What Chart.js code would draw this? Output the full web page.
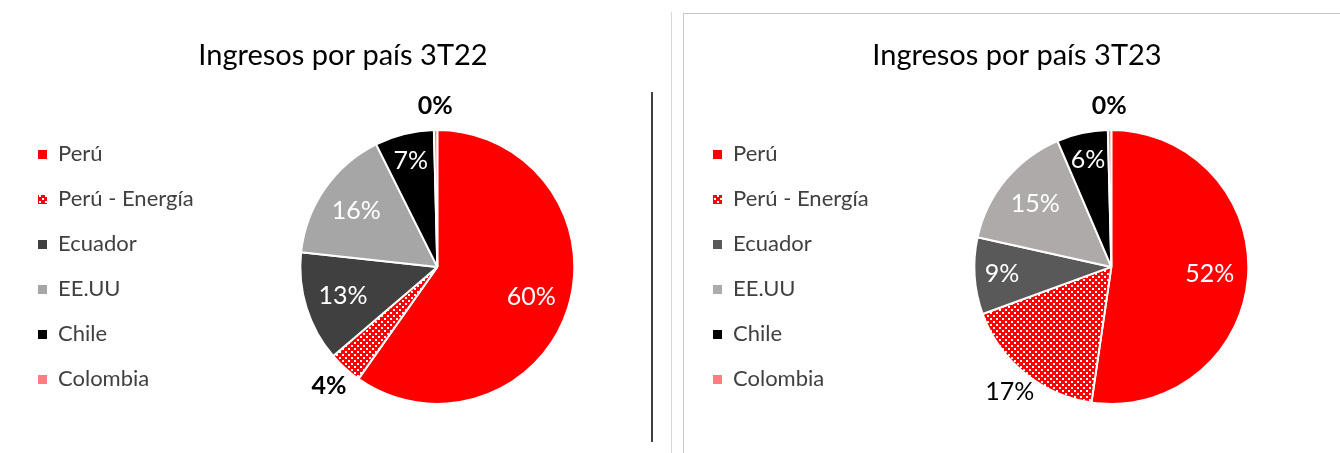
<!DOCTYPE html>
<html>
<head>
<meta charset="utf-8">
<script src="https://cdn.jsdelivr.net/npm/chart.js@4.4.0/dist/chart.umd.min.js"></script>
<style>
  html, body { margin: 0; padding: 0; background: #fff; overflow: hidden; }
  body { width: 1340px; height: 453px; position: relative; }
  .box { position: absolute; top: 0; height: 453px; }
  #left { left: 0; width: 680px; }
  #right { left: 684px; width: 662px; }
  .line { position: absolute; }
</style>
</head>
<body>
<div class="line" style="left:651px;top:92px;width:2px;height:350px;background:#404040"></div>
<div class="line" style="left:671px;top:12px;width:1px;height:441px;background:#d9d9d9"></div>
<div class="line" style="left:683px;top:13px;width:1px;height:440px;background:#c8c8c8"></div>
<div class="line" style="left:683px;top:13px;width:657px;height:1px;background:#c8c8c8"></div>
<div class="box" id="left"><canvas id="chart22"></canvas></div>
<div class="box" id="right"><canvas id="chart23"></canvas></div>
<script>
const paises = ["Perú", "Perú - Energía", "Ecuador", "EE.UU", "Chile", "Colombia"];
const ingresos3T22 = [60, 4, 13, 16, 7, 0.4];
const ingresos3T23 = [52, 17, 9, 15, 6, 0.4];
// etiquetas que van fuera del pie
const fuera3T22 = ["Perú - Energía", "Colombia"];
const fuera3T23 = ["Perú - Energía", "Colombia"];

const FONT = "Lato";

function puntos(color) {
  const c = document.createElement("canvas");
  c.width = 6;
  c.height = 6;
  const ctx = c.getContext("2d");
  ctx.fillStyle = color;
  ctx.fillRect(0, 0, 6, 6);
  ctx.fillStyle = "#fff";
  ctx.fillRect(0, 0, 2, 2);
  ctx.fillRect(3, 3, 2, 2);
  return ctx.createPattern(c, "repeat");
}

function etiquetas(fuera) {
  return {
    id: "etiquetas",
    afterDatasetsDraw(chart) {
      const ctx = chart.ctx;
      const data = chart.data.datasets[0].data;
      chart.getDatasetMeta(0).data.forEach((arc, i) => {
        const p = arc.getProps(["x", "y", "startAngle", "endAngle", "outerRadius"], true);
        const mid = (p.startAngle + p.endAngle) / 2;
        const valor = data[i];
        const afuera = fuera.includes(chart.data.labels[i]);
        let r;
        if (afuera) r = p.outerRadius + 24;
        else if (valor < 10) r = p.outerRadius * 0.8;
        else r = p.outerRadius * 0.72;
        ctx.save();
        ctx.font = (afuera && valor < 5 ? "bold " : "") + "25px " + FONT;
        ctx.fillStyle = afuera ? "#000" : "#fff";
        ctx.textAlign = "center";
        ctx.textBaseline = "middle";
        ctx.fillText(Math.round(valor) + "%", p.x + Math.cos(mid) * r, p.y + Math.sin(mid) * r);
        ctx.restore();
      });
    },
  };
}

function crear(id, titulo, valores, colores, fuera, padL, padR) {
  new Chart(document.getElementById(id), {
    type: "pie",
    data: {
      labels: paises,
      datasets: [
        {
          data: valores,
          backgroundColor: colores,
          borderColor: "#fff",
          borderWidth: 2,
        },
      ],
    },
    options: {
      responsive: true,
      maintainAspectRatio: false,
      animation: false,
      radius: 137,
      layout: { padding: { left: padL, right: padR, top: 0, bottom: 36 } },
      plugins: {
        title: {
          display: true,
          text: titulo,
          color: "#000",
          font: { family: FONT, size: 29, weight: "normal" },
          padding: { top: 38, bottom: 44 },
        },
        legend: {
          position: "left",
          fullSize: false,
          labels: {
            boxWidth: 9,
            boxHeight: 9,
            padding: 23,
            color: "#404040",
            font: { family: FONT, size: 22 },
            generateLabels(chart) {
              return Chart.overrides.pie.plugins.legend.labels
                .generateLabels(chart)
                .map((l) => Object.assign(l, { lineWidth: 0 }));
            },
          },
        },
        tooltip: { enabled: false },
      },
    },
    plugins: [etiquetas(fuera)],
  });
}

crear("chart22", "Ingresos por país 3T22", ingresos3T22,
  ["#ff0000", puntos("#ff0000"), "#404040", "#a6a6a6", "#000000", "#ff7c80"],
  fuera3T22, 15, 9);
crear("chart23", "Ingresos por país 3T23", ingresos3T23,
  ["#ff0000", puntos("#ff0000"), "#595959", "#aeaaaa", "#000000", "#ff7c80"],
  fuera3T23, 6, 2);
</script>
</body>
</html>
